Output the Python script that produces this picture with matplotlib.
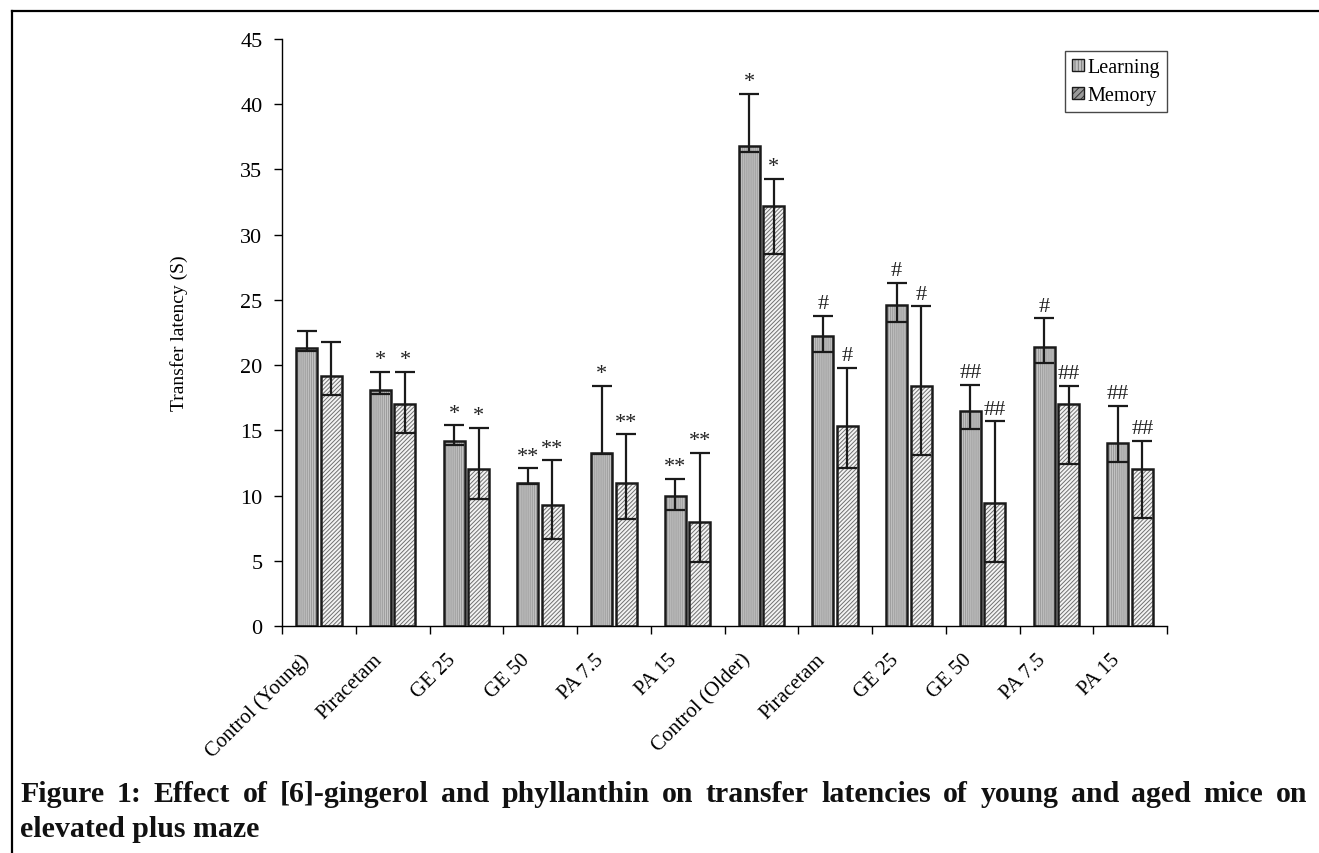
import matplotlib
matplotlib.use("Agg")
import matplotlib.pyplot as plt
import numpy as np
from matplotlib.patches import Patch
from matplotlib.lines import Line2D

categories = ["Control (Young)", "Piracetam", "GE 25", "GE 50", "PA 7.5", "PA 15",
              "Control (Older)", "Piracetam", "GE 25", "GE 50", "PA 7.5", "PA 15"]
learning = [21.3, 18.1, 14.2, 11.0, 13.3, 10.0, 36.8, 22.2, 24.6, 16.5, 21.4, 14.0]
learning_err_plus = [1.3, 1.4, 1.2, 1.1, 5.1, 1.3, 4.0, 1.6, 1.7, 2.0, 2.2, 2.9]
learning_err_minus = [0.2, 0.3, 0.3, 0.1, 0.1, 1.1, 0.5, 1.2, 1.3, 1.4, 1.2, 1.4]
memory = [19.2, 17.0, 12.0, 9.3, 11.0, 8.0, 32.2, 15.3, 18.4, 9.4, 17.0, 12.0]
memory_err_plus = [2.6, 2.5, 3.2, 3.4, 3.7, 5.3, 2.1, 4.5, 6.1, 6.3, 1.4, 2.2]
memory_err_minus = [1.5, 2.2, 2.3, 2.6, 2.8, 3.1, 3.7, 3.2, 5.3, 4.5, 4.6, 3.7]
learning_sig = ["", "*", "*", "**", "*", "**", "*", "#", "#", "##", "#", "##"]
memory_sig = ["", "*", "*", "**", "**", "**", "*", "#", "#", "##", "##", "##"]
yticks = [0, 5, 10, 15, 20, 25, 30, 35, 40, 45]

SERIF = ["Liberation Serif", "DejaVu Serif"]
plt.rcParams["font.family"] = SERIF
plt.rcParams["hatch.linewidth"] = 0.7

W, H = 1319, 854
fig = plt.figure(figsize=(W / 100, H / 100), dpi=100)
ax = fig.add_axes([282 / W, 1 - 627 / H, (1167 - 282) / W, (627 - 40) / H])

n = len(categories)
x = np.arange(n)
bw = 0.285
gap = 0.05
xl = x - (bw + gap) / 2
xm = x + (bw + gap) / 2

# hatch layers
ax.bar(xl, learning, bw, color="#c4c4c4", edgecolor="#9a9a9a", hatch="||||||||", linewidth=0, zorder=2)
ax.bar(xm, memory, bw, color="#f4f4f4", edgecolor="#707070", hatch="////////", linewidth=0, zorder=2)
# outlines
ax.bar(xl, learning, bw, fill=False, edgecolor="#1a1a1a", linewidth=1.8, zorder=3)
ax.bar(xm, memory, bw, fill=False, edgecolor="#1a1a1a", linewidth=1.8, zorder=3)

ekw = dict(fmt="none", ecolor="#1a1a1a", elinewidth=1.6, capsize=7, capthick=1.6, zorder=4)
ax.errorbar(xl, learning, yerr=[learning_err_minus, learning_err_plus], **ekw)
ax.errorbar(xm, memory, yerr=[memory_err_minus, memory_err_plus], **ekw)

for i in range(n):
    if learning_sig[i]:
        ax.text(xl[i], learning[i] + learning_err_plus[i] + 0.2, learning_sig[i],
                ha="center", va="bottom", fontsize=16, color="#222222", zorder=5)
    if memory_sig[i]:
        ax.text(xm[i], memory[i] + memory_err_plus[i] + 0.2, memory_sig[i],
                ha="center", va="bottom", fontsize=16, color="#222222", zorder=5)

ax.set_xlim(-0.5, n - 0.5)
ax.set_ylim(0, 45)
ax.set_yticks(yticks)
ax.set_yticklabels([str(t) for t in yticks], fontsize=16)
ax.set_xticks(x - 0.27)
ax.set_xticklabels(categories, rotation=45, ha="right", rotation_mode="anchor", fontsize=15)
ax.tick_params(axis="x", length=0, pad=17)
ax.set_xticks(np.arange(n + 1) - 0.5, minor=True)
ax.tick_params(axis="x", which="minor", length=6, width=1, direction="out")
ax.tick_params(axis="y", length=6, width=1, direction="out", pad=8)
for s in ["top", "right"]:
    ax.spines[s].set_visible(False)
for s in ["left", "bottom"]:
    ax.spines[s].set_linewidth(1.0)
ax.set_ylabel("Transfer latency (S)", fontsize=14, labelpad=38)

h1 = (Patch(facecolor="#c4c4c4", edgecolor="#7a7a7a", hatch="|||||", linewidth=0),
      Patch(fill=False, edgecolor="#1a1a1a", linewidth=1.0))
h2 = (Patch(facecolor="#9a9a9a", edgecolor="#333333", hatch="/////", linewidth=0),
      Patch(fill=False, edgecolor="#1a1a1a", linewidth=1.0))
leg = ax.legend([h1, h2], ["Learning", "Memory"], loc="upper right",
                bbox_to_anchor=(1.0, (627 - 52) / (627 - 40)), fontsize=14.5,
                frameon=True, fancybox=False, edgecolor="#1a1a1a",
                handlelength=0.6, handleheight=0.6, handletextpad=0.15,
                borderpad=0.35, labelspacing=0.45, borderaxespad=0.0)
leg.get_frame().set_linewidth(1.0)

# Outer frame lines
fig.add_artist(Line2D([12 / W, 1.0], [1 - 12 / H, 1 - 12 / H], color="black", lw=1.6))
fig.add_artist(Line2D([12 / W, 12 / W], [1 - 12 / H, 0.0], color="black", lw=1.6))

# Caption with justified first line
line1 = "Figure 1: Effect of [6]-gingerol and phyllanthin on transfer latencies of young and aged mice on"
line2 = "elevated plus maze"
cap_kw = dict(fontsize=21.5, fontweight="bold", family=SERIF, va="center", ha="left", color="#111111")
words = line1.split(" ")
tobjs = [fig.text(0, 1 - 795 / H, w, **cap_kw) for w in words]
fig.canvas.draw()
r = fig.canvas.get_renderer()
widths = [t.get_window_extent(r).width for t in tobjs]
x0, x1 = 20, 1307
g = (x1 - x0 - sum(widths)) / (len(words) - 1)
cx = x0
for t, wd in zip(tobjs, widths):
    t.set_x(cx / W)
    cx += wd + g
fig.text(20 / W, 1 - 830 / H, line2, **cap_kw)

fig.savefig("out.png", dpi=100)
